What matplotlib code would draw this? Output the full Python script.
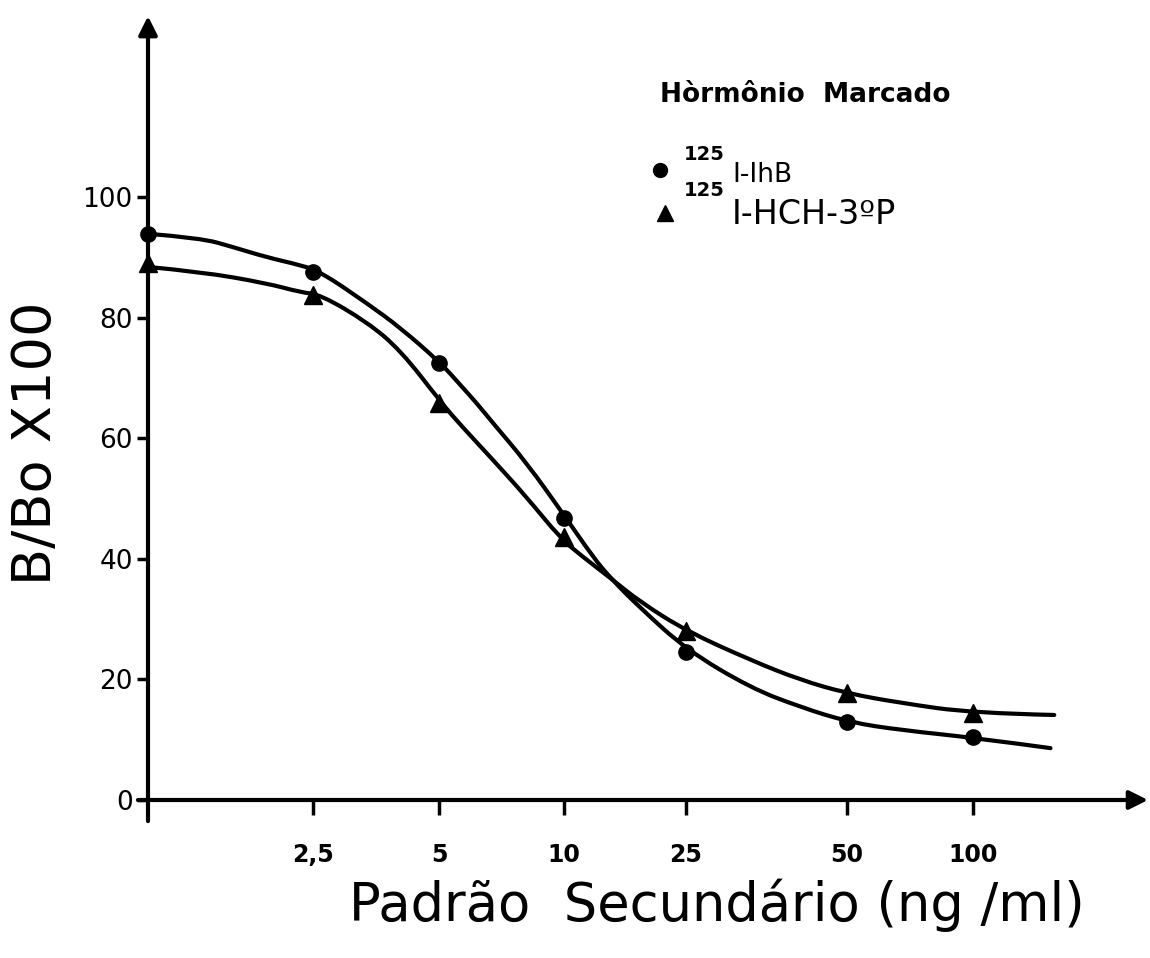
import matplotlib
matplotlib.use("Agg")
import matplotlib.pyplot as plt
from matplotlib.path import Path
from matplotlib.patches import PathPatch

# category positions on the x axis (hand-spaced in the original figure)
x_pos = [0, 1.32, 2.33, 3.33, 4.30, 5.59, 6.60]
x_labels = ["", "2,5", "5", "10", "25", "50", "100"]

# B/Bo x 100 for each labelled hormone
circ_y = [93.8, 87.5, 72.5, 46.8, 24.5, 12.9, 10.4]
tri_y = [89.0, 83.8, 65.8, 43.6, 28.0, 17.7, 14.4]

# fitted curves
circ_curve_x = [0, 0.42, 0.68, 0.95, 1.22, 1.38, 1.75, 2.02, 2.34, 2.50, 2.63, 2.76,
                3.03, 3.34, 3.56, 3.70, 3.94, 4.31, 4.82, 5.22, 5.61, 6.02, 6.62, 7.22]
circ_curve_y = [93.9, 93.2, 91.7, 90.0, 88.7, 87.6, 82.4, 78.3, 72.5, 68.8, 65.8, 62.5,
                55.9, 46.9, 40.3, 36.8, 31.8, 24.9, 18.6, 15.4, 12.9, 11.6, 10.3, 8.6]
tri_curve_x = [0, 0.42, 0.95, 1.22, 1.38, 1.75, 2.02, 2.35, 2.50, 2.76, 3.03, 3.30,
               3.48, 3.70, 3.94, 4.31, 4.82, 5.22, 5.59, 6.02, 6.60, 7.25]
tri_curve_y = [88.4, 87.6, 85.7, 84.2, 83.8, 79.3, 74.6, 65.8, 62.2, 56.4, 50.2, 43.4,
               40.3, 36.8, 32.8, 28.0, 23.2, 19.9, 17.7, 16.1, 14.4, 14.1]

y_ticks = [0, 20, 40, 60, 80, 100]


def smooth_path(xs, ys):
    # quadratic bezier through the midpoints, read points used as control points
    pts = list(zip(xs, ys))
    verts = [pts[0]]
    codes = [Path.MOVETO]
    for i in range(1, len(pts) - 1):
        mid = ((pts[i][0] + pts[i + 1][0]) / 2, (pts[i][1] + pts[i + 1][1]) / 2)
        if i == len(pts) - 2:
            mid = pts[-1]
        verts += [pts[i], mid]
        codes += [Path.CURVE3, Path.CURVE3]
    return Path(verts, codes)


plt.rcParams['font.family'] = ['DejaVu Sans']

fig = plt.figure(figsize=(11.5, 9.58), dpi=100)
ax = fig.add_axes([148 / 1150, 158 / 958, 1000 / 1150, 130 * 6.03 / 958])
ax.set_xlim(0, 8)
ax.set_ylim(0, 130)
for s in ax.spines.values():
    s.set_visible(False)

# axes with arrow heads
ax.annotate("", xy=(8, 0), xytext=(-0.08, 0),
            arrowprops=dict(arrowstyle='-|>', lw=3, color='black', mutation_scale=28,
                            shrinkA=0, shrinkB=0), annotation_clip=False)
ax.annotate("", xy=(0, 130), xytext=(0, -3.5),
            arrowprops=dict(arrowstyle='-|>', lw=3, color='black', mutation_scale=28,
                            shrinkA=0, shrinkB=0), annotation_clip=False)

for cx, cy in [(circ_curve_x, circ_curve_y), (tri_curve_x, tri_curve_y)]:
    ax.add_patch(PathPatch(smooth_path(cx, cy), facecolor='none', edgecolor='black',
                           lw=3, capstyle='round', clip_on=False))
ax.plot(x_pos, circ_y, 'o', color='black', ms=11, clip_on=False, zorder=5)
ax.plot(x_pos, tri_y, '^', color='black', ms=13, clip_on=False, zorder=5)

ax.set_xticks(x_pos[1:], x_labels[1:])
ax.set_yticks(y_ticks)
ax.tick_params(axis='x', direction='out', length=11, width=2.5, pad=20, labelsize=17)
ax.tick_params(axis='y', direction='out', length=8, width=2.5, pad=3, labelsize=19)
for lab in ax.get_xticklabels():
    lab.set_fontweight('bold')

fig.text(36 / 1150, 1 - 443 / 958, "B/Bo X100", rotation=90, fontsize=39,
         ha='center', va='center')
fig.text(717 / 1150, 1 - 905 / 958, "Padrão  Secundário (ng /ml)", fontsize=38,
         ha='center', va='center')

# legend
fig.text(660 / 1150, 1 - 95 / 958, "Hòrmônio  Marcado", fontsize=19,
         fontweight='bold', ha='left', va='center')
ax.plot([(660 - 148) / 125], [(800 - 170) / 6.03], 'o', color='black', ms=10,
        clip_on=False)
ax.plot([(665 - 148) / 125], [(800 - 213) / 6.03], '^', color='black', ms=12,
        clip_on=False)
fig.text(684 / 1150, 1 - 155 / 958, "125", fontsize=14, fontweight='bold',
         ha='left', va='center')
fig.text(732 / 1150, 1 - 175 / 958, "I-IhB", fontsize=19, ha='left', va='center')
fig.text(684 / 1150, 1 - 190 / 958, "125", fontsize=14, fontweight='bold',
         ha='left', va='center')
fig.text(732 / 1150, 1 - 214 / 958, "I-HCH-3ºP", fontsize=24, ha='left', va='center')

fig.savefig("out.png", dpi=100)
